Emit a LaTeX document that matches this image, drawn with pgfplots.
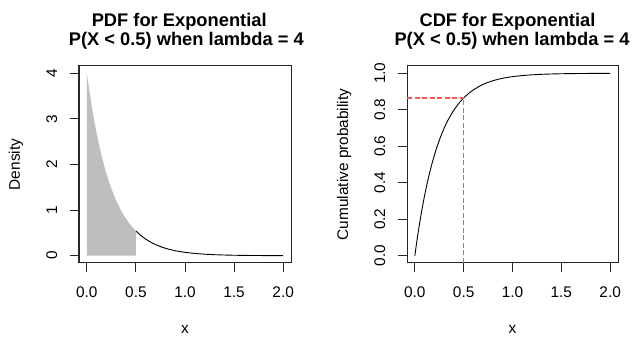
\documentclass[border=0pt]{standalone}
\usepackage{pgfplots}
\pgfplotsset{compat=1.18}
\usepackage{fontspec}
\setmainfont{Liberation Sans}
\definecolor{rgray}{HTML}{BEBEBE}
\definecolor{rred}{HTML}{FF5555}
\begin{document}
\begin{tikzpicture}
\useasboundingbox (0pt,0pt) rectangle (632pt,339pt);
\pgfplotsset{
  rplot/.style={
    scale only axis,
    height=197pt,
    axis line style={line width=1pt, black!85},
    every tick/.style={line width=1pt, black!85},
    tick align=outside, major tick length=9pt,
    tick pos=left,
    /pgf/number format/assume math mode=true,
    tick label style={font=\fontsize{15.4}{18}\selectfont},
    xmin=-0.08, xmax=2.08,
    xtick={0,0.5,1,1.5,2},
    xticklabels={0.0,0.5,1.0,1.5,2.0},
    xticklabel style={anchor=base, inner sep=0pt},
    yticklabel style={rotate=90, anchor=base, inner sep=0pt},
    xticklabel shift=26pt,
    yticklabel shift=13pt,
    xlabel={x},
    every axis x label/.style={at={(axis description cs:0.5,0)}, anchor=base, yshift=-71pt, font=\fontsize{15.4}{18}\selectfont},
    every axis y label/.style={at={(axis description cs:0,0.5)}, xshift=-59pt, rotate=90, anchor=base, font=\fontsize{15.4}{18}\selectfont},
  }
}
% Left panel: PDF
\begin{scope}[shift={(79pt,76pt)}]
\begin{axis}[rplot, width=212pt,
  ymin=-0.16, ymax=4.16, ytick={0,1,2,3,4}, yticklabels={0,1,2,3,4},
  ylabel={Density}]
\addplot[fill=rgray, draw=none] coordinates {
(0,4) (0.025,3.61935) (0.05,3.27492) (0.075,2.96327) (0.1,2.68128)
(0.125,2.42612) (0.15,2.19525) (0.175,1.98634) (0.2,1.79732) (0.225,1.62628)
(0.25,1.47152) (0.275,1.33148) (0.3,1.20478) (0.325,1.09013) (0.35,0.98639)
(0.375,0.89252) (0.4,0.80759) (0.425,0.73073) (0.45,0.66120) (0.475,0.59827)
(0.5,0.54134)} \closedcycle;
\addplot[black, line width=0.9pt] coordinates {
(0.5,0.54134) (0.55,0.44321) (0.6,0.36287) (0.65,0.29710) (0.7,0.24324)
(0.75,0.19915) (0.8,0.16305) (0.85,0.13349) (0.9,0.10929) (0.95,0.08948)
(1.0,0.07326) (1.1,0.04911) (1.2,0.03292) (1.3,0.02207) (1.4,0.01479)
(1.5,0.00992) (1.6,0.00665) (1.7,0.00446) (1.8,0.00299) (1.9,0.00200)
(2.0,0.00134)};
\end{axis}
\end{scope}
% Right panel: CDF
\begin{scope}[shift={(407pt,76pt)}]
\begin{axis}[rplot, width=211pt,
  ymin=-0.04, ymax=1.04, ytick={0,0.2,0.4,0.6,0.8,1},
  yticklabels={0.0,0.2,0.4,0.6,0.8,1.0},
  ylabel={Cumulative probability}]
\addplot[black, line width=0.9pt] coordinates {
(0,0) (0.025,0.095163) (0.05,0.181269) (0.075,0.259182) (0.1,0.329680)
(0.125,0.393469) (0.15,0.451188) (0.175,0.503415) (0.2,0.550671) (0.225,0.593430)
(0.25,0.632121) (0.275,0.667129) (0.3,0.698806) (0.325,0.727468) (0.35,0.753403)
(0.375,0.776870) (0.4,0.798103) (0.425,0.817316) (0.45,0.834701) (0.475,0.850431)
(0.5,0.864665) (0.55,0.889197) (0.6,0.909282) (0.65,0.925726) (0.7,0.939190)
(0.75,0.950213) (0.8,0.959238) (0.85,0.966627) (0.9,0.972676) (0.95,0.977629)
(1.0,0.981684) (1.1,0.987723) (1.2,0.991770) (1.3,0.994483) (1.4,0.996302)
(1.5,0.997521) (1.6,0.998338) (1.7,0.998886) (1.8,0.999253) (1.9,0.999500)
(2.0,0.999665)};
\addplot[color=rred, solid, line width=1.4pt, dash pattern=on 5pt off 2.5pt] coordinates {(-0.08,0.864665) (0.5,0.864665)};
\addplot[color=rred, solid, line width=1.4pt, dash pattern=on 5pt off 2.5pt] coordinates {(0.5,-0.04) (0.5,0.864665)};
\end{axis}
\end{scope}
% Titles
\begin{scope}[every node/.style={font=\fontsize{18.3}{22}\selectfont\bfseries, inner sep=0pt, anchor=base}]
\node at (179.2pt,312.5pt) {PDF for Exponential};
\node at (186.3pt,293.5pt) {P(X < 0.5) when lambda = 4};
\node at (507.5pt,312.5pt) {CDF for Exponential};
\node at (512pt,293.5pt) {P(X < 0.5) when lambda = 4};
\end{scope}
\end{tikzpicture}
\end{document}
